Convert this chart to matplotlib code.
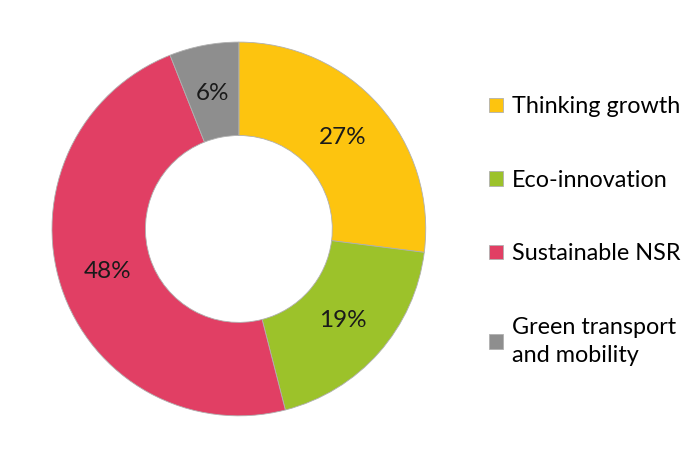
import matplotlib.pyplot as plt

categorias = ["Thinking growth", "Eco-innovation", "Sustainable NSR", "Green transport\nand mobility"]
porcentajes = [27, 19, 48, 6]
colores = ["#FDC40F", "#9CC22A", "#E13F64", "#8E8E8E"]

plt.rcParams['font.family'] = ['Lato', 'DejaVu Sans']

fig = plt.figure(figsize=(6.96, 4.63), dpi=100)
ax = fig.add_axes([0.0747, 0.1015, 0.537, 0.808])

wedges, textos, autotextos = ax.pie(
    porcentajes, colors=colores, startangle=90, counterclock=False,
    autopct='%d%%', pctdistance=0.74,
    wedgeprops=dict(width=0.5, edgecolor='#b0b0b0', linewidth=0.6),
    textprops=dict(fontsize=17.5, color='#1a1a1a'))
ax.set_xlim(-1, 1)
ax.set_ylim(-1, 1)

leyenda = fig.legend(wedges, categorias, loc='upper left', bbox_to_anchor=(0.7026, 0.792),
                     frameon=False, fontsize=16.8, labelspacing=2.25, borderpad=0,
                     borderaxespad=0, handlelength=0.6, handleheight=0.6,
                     handletextpad=0.4)
for t in leyenda.get_texts():
    t.set_linespacing(1.4)

fig.savefig("out.png", dpi=100)
